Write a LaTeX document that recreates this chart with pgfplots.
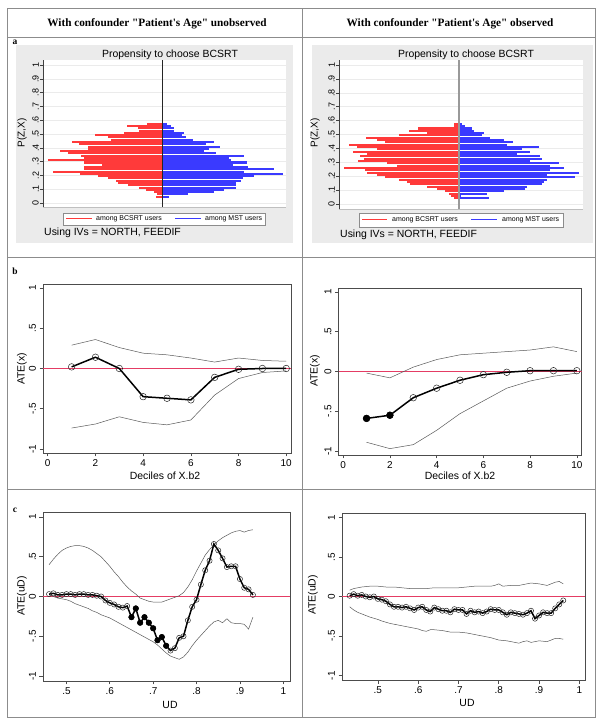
\documentclass[border=0pt]{standalone}
\usepackage{fontspec}
\setmainfont{Liberation Sans}
\newfontfamily\tnr{Liberation Serif}
\usepackage{pgfplots}
\usepackage{pgfplotstable}
\pgfplotsset{compat=1.18}

\definecolor{stred}{RGB}{255,58,58}
\definecolor{stblue}{RGB}{58,58,255}
\definecolor{stbg}{RGB}{235,235,235}
\definecolor{rline}{RGB}{228,60,100}
\definecolor{tabline}{RGB}{140,140,140}
\newcommand\fs[1]{\fontsize{#1}{#1}\selectfont}

% propensity histograms: bin centre, bar length (px) for BCSRT (red) and MST (blue) users
\pgfplotstableread{
p      red  blue
0.046    6    7
0.0625   5   26
0.079    8   52
0.0955  16   62
0.112   23   74
0.1285  34   74
0.145   44   74
0.1615  46   79
0.178   54   81
0.1945  64   92
0.211   82  121
0.2275 109   82
0.244   78  112
0.2605  78   86
0.277   60   71
0.2935  78   85
0.310  114   69
0.3265  78   67
0.343   81   82
0.3595  94   54
0.376  102   42
0.3925  74   47
0.409   74   58
0.4255  83   44
0.442   90   52
0.4585  51   31
0.475   54   24
0.4915  67   20
0.508   38   22
0.5245  23   12
0.541   24   12
0.5575  35    9
0.574   15    5
}\histL

\pgfplotstableread{
p      red  blue
0.042    5   30
0.059    8    2
0.075   10   28
0.092   14   45
0.109   22   66
0.125   32   68
0.142   49   83
0.159   52   85
0.175   60   88
0.192   74  116
0.209   82   88
0.226   92  120
0.242   94   91
0.259  115  105
0.276   62   91
0.292   72  100
0.309  101   71
0.326   95   83
0.342   99   81
0.359   92   58
0.376  106   71
0.393   82   63
0.409  102   80
0.426  110   48
0.443   74   54
0.459   82   45
0.476   93   31
0.493   60   23
0.509   32   25
0.526   50   15
0.543   41   13
0.559    5    6
0.576    5    3
}\histR

\pgfplotsset{
  histo/.style={
    scale only axis, anchor=south west,
    axis background/.style={fill=white},
    axis x line*=bottom, axis y line*=left,
    axis line style={-},
    x axis line style={draw=black!25},
    y axis line style={draw=black!75},
    xtick=\empty,
    ytick={0,0.1,0.2,0.3,0.4,0.5,0.6,0.7,0.8,0.9,1},
    yticklabels={0,.1,.2,.3,.4,.5,.6,.7,.8,.9,1},
    yticklabel style={rotate=90, anchor=south, font=\fs{9}, inner sep=1bp},
    tick align=outside, major tick length=3bp,
    tick style={black!75, line width=0.5bp},
    ymajorgrids, grid style={black!8, line width=0.5bp},
  },
  rplot/.style={
    scale only axis, anchor=south west,
    axis line style={black!70, line width=0.6bp},
    tick align=outside, major tick length=3.5bp, tick pos=left,
    tick style={black!70, line width=0.6bp},
    ytick={-1,-0.5,0,0.5,1}, yticklabels={-1,-.5,0,.5,1},
    yticklabel style={rotate=90, anchor=south, font=\fs{10}},
    xticklabel style={font=\fs{10}},
  },
  zero/.style={draw=rline, line width=0.7bp, mark=none},
  ci/.style={draw=black!65, line width=0.5bp, mark=none},
  est/.style={draw=black, line width=1.5bp, mark=o, mark size=#1,
    mark options={line width=0.5bp, draw=black!85}},
}

\begin{document}
\begin{tikzpicture}
\path (0,0) rectangle (602bp,727bp);

% table frame
\draw[draw=tabline, line width=0.8bp] (7bp,10bp) rectangle (595bp,719bp);
\draw[draw=tabline, line width=0.8bp] (7bp,690bp) -- (595bp,690bp);
\draw[draw=tabline, line width=0.8bp] (7bp,470bp) -- (595bp,470bp);
\draw[draw=tabline, line width=0.8bp] (7bp,238bp) -- (595bp,238bp);
\draw[draw=tabline, line width=0.8bp] (302bp,10bp) -- (302bp,719bp);
\node[font=\tnr\bfseries\fs{11.3}] at (157bp,703bp) {With confounder "Patient's Age" unobserved};
\node[font=\tnr\bfseries\fs{11.3}] at (450bp,703bp) {With confounder "Patient's Age" observed};
\node[font=\tnr\bfseries\fs{9.5}] at (15bp,685bp) {a};
\node[font=\tnr\bfseries\fs{9.5}] at (15bp,456bp) {b};
\node[font=\tnr\bfseries\fs{9.5}] at (15bp,217bp) {c};

% ---- row a: Stata graph backgrounds
\fill[fill=stbg] (16bp,484bp) rectangle (293bp,682bp);
\fill[fill=stbg] (312bp,484bp) rectangle (593bp,682bp);

\begin{axis}[histo, at={(43bp,520bp)}, width=243bp, height=147bp,
  xmin=-119, xmax=124, ymin=-0.029, ymax=1.036]
  \addplot[xcomb, draw=stred, line width=2.05bp] table[x expr=-\thisrow{red}, y=p] {\histL};
  \addplot[xcomb, draw=stblue, line width=2.05bp] table[x=blue, y=p] {\histL};
  \addplot[draw=black!85, line width=0.6bp, mark=none] coordinates {(0,-0.029) (0,1.036)};
\end{axis}

\begin{axis}[histo, at={(339bp,518bp)}, width=244bp, height=149bp,
  xmin=-120, xmax=124, ymin=-0.036, ymax=1.036]
  \addplot[xcomb, draw=stred, line width=2.05bp] table[x expr=-\thisrow{red}, y=p] {\histR};
  \addplot[xcomb, draw=stblue, line width=2.05bp] table[x=blue, y=p] {\histR};
  \addplot[draw=black!40, line width=1.4bp, mark=none] coordinates {(0,-0.036) (0,1.036)};
\end{axis}

\node[font=\fs{10.5}] at (170bp,672bp) {Propensity to choose BCSRT};
\node[font=\fs{10.5}] at (466bp,672bp) {Propensity to choose BCSRT};
\node[font=\fs{10}, rotate=90] at (22bp,594bp) {P(Z,X)};
\node[font=\fs{10}, rotate=90] at (315bp,594bp) {P(Z,X)};

% legends
\draw[fill=white, draw=black!45, line width=0.5bp] (63bp,502bp) rectangle (265bp,514bp);
\draw[draw=stred, line width=1bp] (66bp,508bp) -- (92bp,508bp);
\draw[draw=stblue, line width=1bp] (175bp,508bp) -- (201bp,508bp);
\node[font=\fs{7}, anchor=west, inner sep=0pt] at (96bp,508bp) {among BCSRT users};
\node[font=\fs{7}, anchor=west, inner sep=0pt] at (205bp,508bp) {among MST users};
\node[font=\fs{10.5}, anchor=west, inner sep=0pt] at (44bp,494bp) {Using IVs = NORTH, FEEDIF};

\draw[fill=white, draw=black!45, line width=0.5bp] (359bp,500bp) rectangle (563bp,514bp);
\draw[draw=stred, line width=1bp] (362bp,507bp) -- (387bp,507bp);
\draw[draw=stblue, line width=1bp] (471bp,507bp) -- (497bp,507bp);
\node[font=\fs{7}, anchor=west, inner sep=0pt] at (392bp,507bp) {among BCSRT users};
\node[font=\fs{7}, anchor=west, inner sep=0pt] at (502bp,507bp) {among MST users};
\node[font=\fs{10.5}, anchor=west, inner sep=0pt] at (340bp,492bp) {Using IVs = NORTH, FEEDIF};

% ---- row b: ATE by deciles
\begin{axis}[rplot, at={(43bp,274bp)}, width=248bp, height=169bp,
  xmin=-0.2, xmax=10.2, ymin=-1.05, ymax=1.05,
  xtick={0,2,4,6,8,10}, xticklabels={0,2,4,6,8,10}]
  \addplot[zero] coordinates {(-0.2,0) (10.2,0)};
  \addplot[ci] coordinates {(1,0.29) (2,0.36) (3,0.26) (4,0.19) (5,0.17) (6,0.13) (7,0.08) (8,0.13) (9,0.10) (10,0.09)};
  \addplot[ci] coordinates {(1,-0.74) (2,-0.69) (3,-0.60) (4,-0.67) (5,-0.70) (6,-0.64) (7,-0.33) (8,-0.125) (9,-0.05) (10,-0.03)};
  \addplot[est=3.3bp] coordinates {(1,0.02) (2,0.14) (3,0.0) (4,-0.35) (5,-0.37) (6,-0.39) (7,-0.11) (8,-0.01) (9,0.0) (10,0.0)};
\end{axis}

\begin{axis}[rplot, at={(338.5bp,272bp)}, width=243bp, height=167bp,
  xmin=-0.2, xmax=10.2, ymin=-1.05, ymax=1.05,
  xtick={0,2,4,6,8,10}, xticklabels={0,2,4,6,8,10}]
  \addplot[zero] coordinates {(-0.2,0) (10.2,0)};
  \addplot[ci] coordinates {(1,-0.02) (2,-0.08) (3,0.055) (4,0.15) (5,0.21) (6,0.23) (7,0.25) (8,0.27) (9,0.31) (10,0.25)};
  \addplot[ci] coordinates {(1,-0.89) (2,-0.97) (3,-0.92) (4,-0.74) (5,-0.53) (6,-0.37) (7,-0.21) (8,-0.12) (9,-0.06) (10,-0.02)};
  \addplot[est=3.3bp] coordinates {(1,-0.59) (2,-0.55) (3,-0.33) (4,-0.21) (5,-0.11) (6,-0.04) (7,-0.01) (8,0.01) (9,0.01) (10,0.01)};
  \addplot[only marks, mark=*, mark size=3.4bp, black] coordinates {(1,-0.59) (2,-0.55)};
\end{axis}

\node[font=\fs{10.5}, rotate=90] at (22bp,358bp) {ATE(x)};
\node[font=\fs{10.5}, rotate=90] at (315bp,356bp) {ATE(x)};
\node[font=\fs{10.5}] at (165bp,251bp) {Deciles of X.b2};
\node[font=\fs{10.5}] at (460bp,251bp) {Deciles of X.b2};

% ---- row c: ATE by UD
\begin{axis}[rplot, at={(43bp,46bp)}, width=247bp, height=169bp,
  xmin=0.446, xmax=1.0155, ymin=-1.063, ymax=1.063,
  xtick={0.5,0.6,0.7,0.8,0.9,1}, xticklabels={.5,.6,.7,.8,.9,1}]
  \addplot[zero] coordinates {(0.446,0) (1.0155,0)};
  \addplot[ci] coordinates {
    (0.46,0.40) (0.47,0.47) (0.48,0.53) (0.49,0.58) (0.50,0.61) (0.51,0.63) (0.52,0.64) (0.53,0.64)
    (0.54,0.63) (0.55,0.61) (0.56,0.58) (0.57,0.54) (0.58,0.50) (0.59,0.44) (0.60,0.38) (0.61,0.31)
    (0.62,0.25) (0.63,0.18) (0.64,0.12) (0.65,0.07) (0.66,0.03) (0.67,-0.02) (0.68,-0.04) (0.69,-0.06)
    (0.70,-0.07) (0.71,-0.07) (0.72,-0.07) (0.73,-0.05) (0.74,-0.03) (0.75,-0.01) (0.76,0.01) (0.77,0.05)
    (0.78,0.12) (0.79,0.21) (0.80,0.32) (0.81,0.42) (0.82,0.52) (0.83,0.59) (0.84,0.65) (0.85,0.70)
    (0.86,0.74) (0.87,0.77) (0.88,0.80) (0.89,0.82) (0.90,0.83) (0.91,0.81) (0.92,0.83) (0.93,0.84)};
  \addplot[ci] coordinates {
    (0.46,0.02) (0.47,0.00) (0.48,-0.02) (0.49,-0.03) (0.50,-0.04) (0.51,-0.06) (0.52,-0.09) (0.53,-0.11)
    (0.54,-0.13) (0.55,-0.15) (0.56,-0.18) (0.57,-0.20) (0.58,-0.23) (0.59,-0.25) (0.60,-0.27) (0.61,-0.30)
    (0.62,-0.33) (0.63,-0.36) (0.64,-0.39) (0.65,-0.42) (0.66,-0.45) (0.67,-0.48) (0.68,-0.51) (0.69,-0.54)
    (0.70,-0.57) (0.71,-0.61) (0.72,-0.66) (0.73,-0.71) (0.74,-0.75) (0.75,-0.77) (0.76,-0.79) (0.77,-0.76)
    (0.78,-0.70) (0.79,-0.62) (0.80,-0.55) (0.81,-0.49) (0.82,-0.43) (0.83,-0.37) (0.84,-0.32) (0.85,-0.30)
    (0.86,-0.33) (0.87,-0.28) (0.88,-0.33) (0.89,-0.34) (0.90,-0.34) (0.91,-0.35) (0.92,-0.41) (0.93,-0.26)};
  \addplot[est=2.6bp] coordinates {
    (0.46,0.03) (0.47,0.04) (0.48,0.02) (0.49,0.02) (0.50,0.03) (0.51,0.03) (0.52,0.02) (0.53,0.03)
    (0.54,0.03) (0.55,0.02) (0.56,0.02) (0.57,0.01) (0.58,0.00) (0.59,-0.05) (0.60,-0.08) (0.61,-0.10)
    (0.62,-0.13) (0.63,-0.14) (0.64,-0.12) (0.65,-0.26) (0.66,-0.15) (0.67,-0.33) (0.68,-0.26) (0.69,-0.33)
    (0.70,-0.40) (0.71,-0.55) (0.72,-0.51) (0.73,-0.62) (0.74,-0.68) (0.75,-0.65) (0.76,-0.52) (0.77,-0.50)
    (0.78,-0.30) (0.79,-0.13) (0.80,-0.04) (0.81,0.15) (0.82,0.33) (0.83,0.45) (0.84,0.66) (0.85,0.58)
    (0.86,0.48) (0.87,0.37) (0.88,0.38) (0.89,0.38) (0.90,0.22) (0.91,0.11) (0.92,0.09) (0.93,0.02)};
  \addplot[only marks, mark=*, mark size=2.8bp, black] coordinates {
    (0.65,-0.26) (0.66,-0.15) (0.67,-0.33) (0.68,-0.26) (0.69,-0.33) (0.70,-0.40) (0.71,-0.55) (0.72,-0.51) (0.73,-0.62)};
\end{axis}

\begin{axis}[rplot, at={(342bp,47bp)}, width=243bp, height=167bp,
  xmin=0.411, xmax=1.014, ymin=-1.055, ymax=1.055,
  xtick={0.5,0.6,0.7,0.8,0.9,1}, xticklabels={.5,.6,.7,.8,.9,1}]
  \addplot[zero] coordinates {(0.411,0) (1.014,0)};
  \addplot[ci] coordinates {
    (0.43,0.08) (0.44,0.10) (0.45,0.11) (0.46,0.12) (0.48,0.13) (0.50,0.13) (0.52,0.12) (0.54,0.12)
    (0.56,0.11) (0.58,0.10) (0.60,0.10) (0.62,0.10) (0.64,0.11) (0.66,0.11) (0.68,0.11) (0.70,0.11)
    (0.72,0.12) (0.74,0.13) (0.76,0.13) (0.78,0.13) (0.79,0.14) (0.80,0.16) (0.81,0.13) (0.83,0.14)
    (0.85,0.14) (0.87,0.16) (0.88,0.17) (0.90,0.16) (0.91,0.15) (0.92,0.14) (0.93,0.16) (0.94,0.18)
    (0.95,0.19) (0.96,0.16)};
  \addplot[ci] coordinates {
    (0.43,-0.13) (0.44,-0.17) (0.45,-0.20) (0.46,-0.22) (0.48,-0.26) (0.50,-0.29) (0.51,-0.31) (0.53,-0.34)
    (0.54,-0.35) (0.56,-0.37) (0.57,-0.38) (0.59,-0.40) (0.60,-0.41) (0.61,-0.43) (0.62,-0.44) (0.63,-0.42)
    (0.64,-0.42) (0.66,-0.43) (0.68,-0.45) (0.70,-0.45) (0.72,-0.46) (0.74,-0.48) (0.76,-0.50) (0.78,-0.52)
    (0.80,-0.55) (0.82,-0.56) (0.83,-0.57) (0.85,-0.59) (0.86,-0.57) (0.87,-0.56) (0.88,-0.58) (0.89,-0.57)
    (0.90,-0.56) (0.92,-0.57) (0.93,-0.55) (0.94,-0.53) (0.95,-0.53) (0.96,-0.54)};
  \addplot[est=2.6bp] coordinates {
    (0.43,0.01) (0.44,0.03) (0.45,0.01) (0.46,0.02) (0.47,0.00) (0.48,-0.01) (0.49,0.00) (0.50,-0.03)
    (0.51,-0.04) (0.52,-0.06) (0.53,-0.10) (0.54,-0.13) (0.55,-0.13) (0.56,-0.14) (0.57,-0.13) (0.58,-0.15)
    (0.59,-0.17) (0.60,-0.14) (0.61,-0.13) (0.62,-0.17) (0.63,-0.19) (0.64,-0.14) (0.65,-0.16) (0.66,-0.18)
    (0.67,-0.18) (0.68,-0.20) (0.69,-0.16) (0.70,-0.17) (0.71,-0.17) (0.72,-0.22) (0.73,-0.18) (0.74,-0.20)
    (0.75,-0.19) (0.76,-0.21) (0.77,-0.19) (0.78,-0.16) (0.79,-0.17) (0.80,-0.17) (0.81,-0.20) (0.82,-0.23)
    (0.83,-0.20) (0.84,-0.21) (0.85,-0.22) (0.86,-0.23) (0.87,-0.21) (0.88,-0.18) (0.89,-0.28) (0.90,-0.24)
    (0.91,-0.20) (0.92,-0.21) (0.93,-0.21) (0.94,-0.15) (0.95,-0.10) (0.96,-0.05)};
\end{axis}

\node[font=\fs{10.5}, rotate=90] at (22bp,131bp) {ATE(uD)};
\node[font=\fs{10.5}, rotate=90] at (313bp,132bp) {ATE(uD)};
\node[font=\fs{10.5}] at (170bp,22bp) {UD};
\node[font=\fs{10.5}] at (467bp,24bp) {UD};
\end{tikzpicture}
\end{document}
